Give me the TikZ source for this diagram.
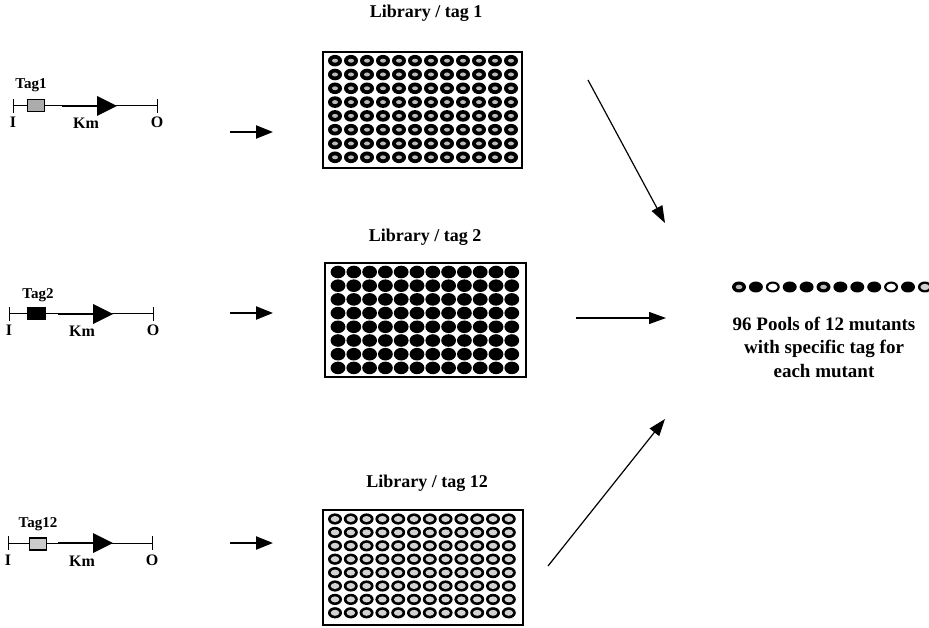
\documentclass[tikz,border=0pt]{standalone}
\usepackage{fontspec}
\setmainfont{Liberation Serif}
\usetikzlibrary{arrows.meta}
\begin{document}
\begin{tikzpicture}[x=1pt,y=-1pt,
  plate/.style={draw=black,line width=2pt,fill=white,inner sep=0pt},
  title/.style={font=\fontsize{18}{20}\selectfont\bfseries},
  tagl/.style={font=\fontsize{15}{16}\selectfont\bfseries,inner sep=0pt},
  lab/.style={font=\fontsize{16}{17}\selectfont\bfseries,inner sep=0pt},
  thinline/.style={line width=1pt},
  kmline/.style={line width=2.8pt},
  kmhead/.style={fill=black},
  tagbox/.style={draw=black,line width=1.2pt,inner sep=0pt,minimum width=17pt,minimum height=12pt},
  rowarrow/.style={line width=2.2pt,-{Triangle[length=17pt,width=13pt]}},
  bigarrow/.style={line width=1.2pt,-{Triangle[length=17pt,width=12pt]}},
  poolfont/.style={font=\fontsize{19}{23.5}\selectfont\bfseries,align=center,inner sep=0pt}
]
\useasboundingbox (0,0) rectangle (929,628);

% ---------- constructs ----------
% row 1
\coordinate (i1) at (13,106); \coordinate (o1) at (157,106);
\draw[thinline] (i1) -- (o1);
\draw[thinline] (13,99) -- (13,113); \draw[thinline] (157,99) -- (157,113);
\draw[kmline] (62,106) -- (98,106);
\fill[kmhead] (97,96) -- (117,106) -- (97,116) -- cycle;
\node[tagbox,fill=gray!65] (t1) at (36,105.5) {};
\node[tagl] (tl1) at (31,85) {Tag1};
\node[lab] (I1) at (13,122) {I};
\node[lab] (K1) at (86,123) {Km};
\node[lab] (O1) at (157,122) {O};
% row 2
\coordinate (i2) at (9,314); \coordinate (o2) at (153,314);
\draw[thinline] (i2) -- (o2);
\draw[thinline] (9,307) -- (9,321); \draw[thinline] (153,307) -- (153,321);
\draw[kmline] (58,314) -- (94,314);
\fill[kmhead] (93,304) -- (113,314) -- (93,324) -- cycle;
\node[tagbox,fill=black] (t2) at (36.5,313.5) {};
\node[tagl] (tl2) at (38,295) {Tag2};
\node[lab] (I2) at (9,330) {I};
\node[lab] (K2) at (82,331) {Km};
\node[lab] (O2) at (153,330) {O};
% row 3
\coordinate (i3) at (8,543); \coordinate (o3) at (152,543);
\draw[thinline] (i3) -- (o3);
\draw[thinline] (8,536) -- (8,550); \draw[thinline] (152,536) -- (152,550);
\draw[kmline] (58,543) -- (94,543);
\fill[kmhead] (93,533) -- (113,543) -- (93,553) -- cycle;
\node[tagbox,fill=gray!40] (t3) at (38,544) {};
\node[tagl] (tl3) at (38,524) {Tag12};
\node[lab] (I3) at (8,560) {I};
\node[lab] (K3) at (82,561) {Km};
\node[lab] (O3) at (152,560) {O};

% ---------- row arrows ----------
\coordinate (a1s) at (230,132); \coordinate (a1e) at (273,132);
\coordinate (a2s) at (230,313); \coordinate (a2e) at (273,313);
\coordinate (a3s) at (230,543); \coordinate (a3e) at (273,543);
\draw[rowarrow] (a1s) -- (a1e);
\draw[rowarrow] (a2s) -- (a2e);
\draw[rowarrow] (a3s) -- (a3e);

% ---------- plates ----------
\node[title] (h1) at (426,13) {Library / tag 1};
\node[plate,minimum width=199pt,minimum height=116pt] (p1) at (422.5,110) {};
\foreach \i in {0,...,11}{\foreach \j in {0,...,7}{
  \fill[black] (335+16*\i,60.7+13.8*\j) ellipse [x radius=7,y radius=5.8];
  \fill[gray!55] (335+16*\i,60.7+13.8*\j) ellipse [x radius=3,y radius=2];
}}

\node[title] (h2) at (425,237) {Library / tag 2};
\node[plate,minimum width=201pt,minimum height=114pt] (p2) at (425.5,320) {};
\foreach \i in {0,...,11}{\foreach \j in {0,...,7}{
  \fill[black] (338+15.8*\i,272+13.7*\j) ellipse [x radius=7.4,y radius=6.3];
}}

\node[title] (h3) at (427,483) {Library / tag 12};
\node[plate,minimum width=200pt,minimum height=115pt] (p3) at (423,567.5) {};
\foreach \i in {0,...,11}{\foreach \j in {0,...,7}{
  \fill[black] (335+15.8*\i,519+13.4*\j) ellipse [x radius=7,y radius=5.6];
  \fill[gray!35] (335+15.8*\i,519+13.4*\j) ellipse [x radius=4.3,y radius=3];
}}

% ---------- big arrows ----------
\coordinate (b1s) at (588,80);  \coordinate (b1e) at (665,223);
\coordinate (b2s) at (576,318); \coordinate (b2e) at (666,318);
\coordinate (b3s) at (548,566); \coordinate (b3e) at (665,419);
\draw[bigarrow] (b1s) -- (b1e);
\draw[bigarrow] (b2s) -- (b2e);
\draw[bigarrow] (b3s) -- (b3e);

% ---------- pools ----------
\foreach \k/\t in {0/1,1/0,2/2,3/0,4/0,5/1,6/0,7/0,8/0,9/2,10/0,11/3}{
  \fill[black] (739+16.9*\k,287) ellipse [x radius=7,y radius=5.5];
  \ifcase\t\relax
  \or \fill[gray!55] (739+16.9*\k,287) ellipse [x radius=3.4,y radius=2.3];
  \or \fill[white] (739+16.9*\k,287) ellipse [x radius=4.8,y radius=3.4];
  \or \fill[gray!35] (739+16.9*\k,287) ellipse [x radius=4.5,y radius=3.2];
  \fi
}
\node[poolfont] (pool) at (824,347) {96 Pools of 12 mutants\\with specific tag for\\each mutant};
\end{tikzpicture}
\end{document}
